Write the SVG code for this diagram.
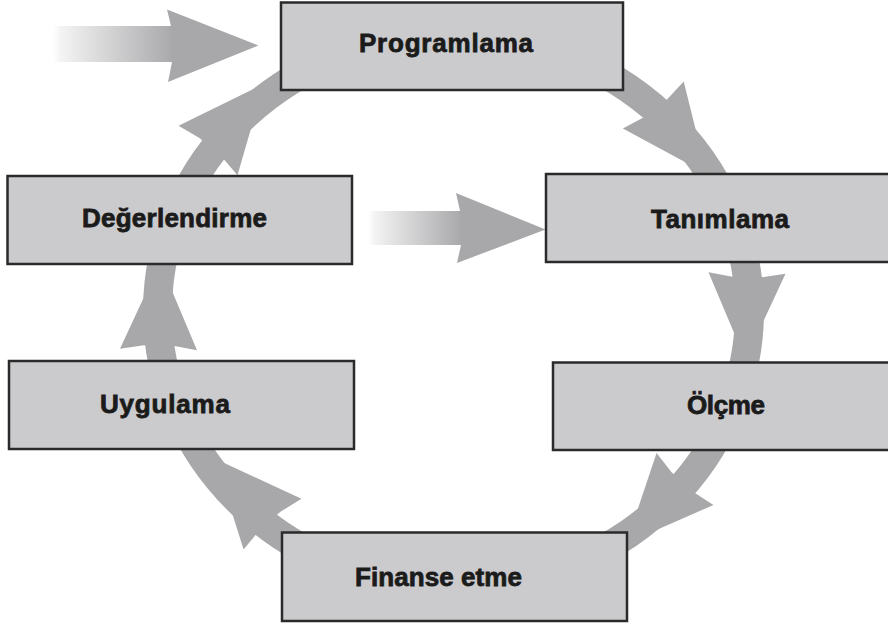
<svg xmlns="http://www.w3.org/2000/svg" xmlns:xlink="http://www.w3.org/1999/xlink" width="888" height="624" viewBox="0 0 888 624">
  <style>
    .box { fill: #cbcbcd; stroke: #2a2a2a; stroke-width: 2.5; }
    .lbl { font-family: "Liberation Sans", Arial, sans-serif; font-weight: bold; font-size: 26px; fill: #1b1b1b; stroke: #1b1b1b; stroke-width: 0.8; }
    .ring { fill: none; stroke: #a8a8aa; stroke-width: 29; }
    .head { fill: #a8a8aa; }
  </style>
  <defs>
    <!-- arrowhead in local coordinates: base at origin, pointing along +x -->
    <path id="head" d="M4,-14.5 L0,-38.5 L87,0 L0,38.5 L4,14.5 Z"/>
    <linearGradient id="fadeIn" x1="0" y1="0" x2="1" y2="0">
      <stop offset="0" stop-color="#ffffff" stop-opacity="0"/>
      <stop offset="0.08" stop-color="#f4f4f5"/>
      <stop offset="1" stop-color="#a8a8aa"/>
    </linearGradient>
  </defs>

  <rect width="888" height="624" fill="#ffffff"/>

  <g id="connectors">
    <!-- cycle ring running behind the boxes -->
    <ellipse class="ring" cx="453.5" cy="311" rx="296" ry="276"/>
    <!-- arrowheads along the cycle -->
    <use xlink:href="#head" class="head" transform="translate(653.3,105) rotate(52.2)"/>
    <use xlink:href="#head" class="head" transform="translate(747,273) rotate(91)"/>
    <use xlink:href="#head" class="head" transform="translate(685,479) rotate(132.4)"/>
    <use xlink:href="#head" class="head" transform="translate(272.5,524.2) rotate(228.7)"/>
    <use xlink:href="#head" class="head" transform="translate(158.5,349.5) rotate(-89)"/>
    <use xlink:href="#head" class="head" transform="translate(208,150.4) rotate(-50)"/>

    <!-- incoming arrow into Programlama -->
    <rect x="50" y="26" width="124" height="36" fill="url(#fadeIn)"/>
    <polygon class="head" points="171,26 167,9.5 258.5,45.5 168,82 172,62"/>

    <!-- incoming arrow into Tanımlama -->
    <rect x="366" y="211" width="96" height="34" fill="url(#fadeIn)"/>
    <polygon class="head" points="460,211 456,193 545.5,229.5 457,263 461,245"/>
  </g>

  <g id="programlama">
    <rect class="box" x="281" y="2.5" width="342" height="87.5"/>
    <text class="lbl" x="359" y="52" textLength="174">Programlama</text>
  </g>

  <g id="degerlendirme">
    <rect class="box" x="7.5" y="176" width="344.5" height="88"/>
    <text class="lbl" x="82" y="227" textLength="185">Değerlendirme</text>
  </g>

  <g id="tanimlama">
    <rect class="box" x="546" y="174" width="345" height="88"/>
    <text class="lbl" x="651" y="228" textLength="138">Tanımlama</text>
  </g>

  <g id="uygulama">
    <rect class="box" x="9" y="361" width="345" height="88"/>
    <text class="lbl" x="100" y="413" textLength="130">Uygulama</text>
  </g>

  <g id="olcme">
    <rect class="box" x="553" y="362.5" width="345" height="87.5"/>
    <text class="lbl" x="687" y="414" textLength="78">Ölçme</text>
  </g>

  <g id="finanse-etme">
    <rect class="box" x="282" y="532.5" width="345" height="88.5"/>
    <text class="lbl" x="355" y="586" textLength="167">Finanse etme</text>
  </g>
</svg>
